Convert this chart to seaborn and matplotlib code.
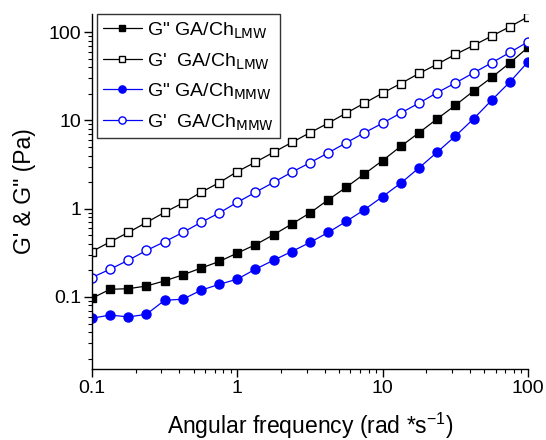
import numpy as np
import pandas as pd
import seaborn as sns
import matplotlib
matplotlib.use("Agg")
import matplotlib.pyplot as plt
from matplotlib.ticker import LogLocator, FuncFormatter, NullFormatter

# angular frequency, 8 points per decade from 0.1 to 100 rad/s
freq = [0.1, 0.133, 0.178, 0.237, 0.316, 0.422, 0.562, 0.750, 1.0, 1.33, 1.78,
        2.37, 3.16, 4.22, 5.62, 7.50, 10.0, 13.3, 17.8, 23.7, 31.6, 42.2,
        56.2, 75.0, 100.0]

g2_lmw = [0.0966, 0.122, 0.124, 0.133, 0.152, 0.178, 0.212, 0.252, 0.314, 0.390,
          0.507, 0.670, 0.894, 1.26, 1.75, 2.48, 3.51, 5.07, 7.25, 10.4, 14.8,
          21.5, 30.6, 44.8, 67.0]
g1_lmw = [0.327, 0.42, 0.538, 0.698, 0.908, 1.16, 1.53, 1.97, 2.63, 3.36, 4.36,
          5.62, 7.25, 9.31, 12.1, 15.7, 20.4, 26.1, 34.0, 43.3, 55.8, 70.6,
          90.1, 115.0, 149.0]
g2_mmw = [0.0573, 0.0624, 0.0593, 0.0636, 0.0917, 0.0942, 0.119, 0.139, 0.159,
          0.206, 0.261, 0.327, 0.414, 0.538, 0.718, 0.975, 1.37, 1.94, 2.90,
          4.36, 6.63, 10.4, 16.9, 27.2, 46.0]
g1_mmw = [0.166, 0.206, 0.261, 0.336, 0.422, 0.538, 0.698, 0.894, 1.18, 1.53,
          1.99, 2.59, 3.31, 4.29, 5.58, 7.25, 9.31, 12.1, 15.7, 20.6, 26.5, 34.5,
          44.8, 58.8, 77.6]

labels = ['G" GA/Ch$_{\\mathrm{LMW}}$', "G'  GA/Ch$_{\\mathrm{LMW}}$",
          'G" GA/Ch$_{\\mathrm{MMW}}$', "G'  GA/Ch$_{\\mathrm{MMW}}$"]

sns.set_style("ticks")
plt.rcParams["font.family"] = ["Liberation Sans", "DejaVu Sans"]
plt.rcParams["mathtext.default"] = "regular"
for k in ("text.color", "axes.labelcolor", "xtick.color", "ytick.color", "axes.edgecolor"):
    plt.rcParams[k] = "black"

fig = plt.figure(figsize=(5.46, 4.4), dpi=100)
ax = fig.add_axes([0.1685, 0.161, 0.7985, 0.807])

styles = [
    ("s", "black", "black", 5.5),
    ("s", "black", "white", 5.5),
    ("o", "blue", "blue", 6.5),
    ("o", "blue", "white", 6.5),
]
for vals, lab, (mk, col, face, ms) in zip([g2_lmw, g1_lmw, g2_mmw, g1_mmw], labels, styles):
    sns.lineplot(x=freq, y=vals, ax=ax, color=col, marker=mk, markersize=ms,
                 markerfacecolor=face, markeredgecolor=col, markeredgewidth=1.0,
                 linewidth=0.9, label=lab)

ax.set_xscale("log")
ax.set_yscale("log")
ax.set_xlim(0.1, 100)
ax.set_ylim(0.0152, 160)

fmt = FuncFormatter(lambda v, p: "%g" % v)
for axis in (ax.xaxis, ax.yaxis):
    axis.set_major_locator(LogLocator(base=10))
    axis.set_minor_locator(LogLocator(base=10, subs=np.arange(2, 10)))
    axis.set_major_formatter(fmt)
    axis.set_minor_formatter(NullFormatter())

ax.tick_params(which="major", direction="out", length=5.5, width=1, labelsize=14, pad=2)
ax.tick_params(which="minor", direction="out", length=3, width=0.8)
for s in ("top", "right"):
    ax.spines[s].set_visible(False)
for s in ("left", "bottom"):
    ax.spines[s].set_linewidth(1.0)

ax.set_xlabel("Angular frequency (rad *s$^{-1}$)", fontsize=16.5, labelpad=10)
ax.set_ylabel("G' & G\" (Pa)", fontsize=16.5, labelpad=9)

leg = ax.legend(loc="upper left", bbox_to_anchor=(0.011, 1.0), borderaxespad=0,
                fontsize=14, frameon=True, fancybox=False, handlelength=2.0,
                handletextpad=0.3, labelspacing=0.55, borderpad=0.3, markerscale=0.8)
leg.get_frame().set_edgecolor("black")
leg.get_frame().set_linewidth(1.0)

fig.savefig("out.png", dpi=100)
